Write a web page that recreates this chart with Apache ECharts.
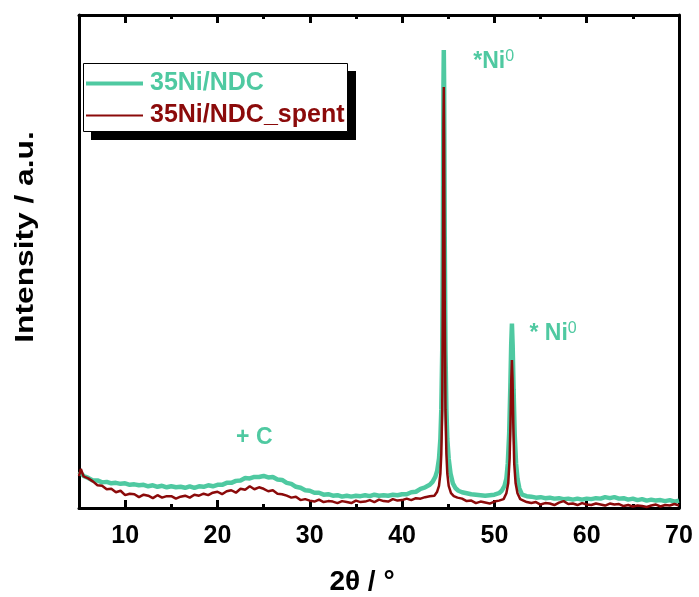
<!DOCTYPE html>
<html>
<head>
<meta charset="utf-8">
<script src="https://cdn.jsdelivr.net/npm/echarts@6/dist/echarts.min.js"></script>
<style>html,body{margin:0;padding:0;background:#fff}#c{width:699px;height:597px}</style>
</head>
<body>
<div id="c"></div>
<script>
// ---- data (2θ in degrees, intensity in arbitrary units 0-100) ----
const seriesNames = ['35Ni/NDC', '35Ni/NDC_spent'];
const xTickLabels = [10, 20, 30, 40, 50, 60, 70];
const xMinorTicks = [15, 25, 35, 45, 55, 65];

const freshX = [5.0,5.5,6.0,6.5,7.0,7.5,8.0,8.5,9.0,9.5,10,10.5,11,11.5,12,12.5,13,13.5,14,14.5,15,15.5,16,16.5,17,17.5,18,18.5,19,19.5,20,20.5,21,21.5,22,22.5,23,23.5,24,24.5,25,25.5,26,26.5,27,27.5,28,28.5,29,29.5,30,30.5,31,31.5,32,32.5,33,33.5,34,34.5,35,35.5,36,36.5,37,37.5,38,38.5,39,39.5,40,40.5,41,41.5,42,42.5,
 43.0,43.3,43.6,43.8,44.0,44.15,44.25,44.35,44.42,44.48,44.52,44.56,44.62,44.7,44.8,44.9,45.05,45.25,45.5,45.8,46.1,46.5,
 47,47.5,48,48.5,49,49.5,50,50.5,
 50.8,51.1,51.3,51.45,51.6,51.72,51.82,51.9,51.98,52.08,52.2,52.35,52.5,52.7,53.0,
 53.5,54,54.5,55,55.5,56,56.5,57,57.5,58,58.5,59,59.5,60,60.5,61,61.5,62,62.5,63,63.5,64,64.5,65,65.5,66,66.5,67,67.5,68,68.5,69,69.5,70];
const freshY = [7.4,6.5,6.1,5.6,5.6,5.2,5.3,5.0,5.1,4.9,5.0,4.7,4.8,4.6,4.7,4.4,4.6,4.3,4.5,4.2,4.4,4.2,4.3,4.1,4.4,4.1,4.4,4.3,4.6,4.4,4.7,4.7,5.1,5.1,5.5,5.6,6.1,6.0,6.3,6.3,6.5,6.2,6.3,5.8,5.7,5.1,4.9,4.3,4.1,3.6,3.5,3.1,3.1,2.7,2.8,2.5,2.6,2.3,2.5,2.3,2.5,2.4,2.6,2.4,2.7,2.5,2.6,2.5,2.7,2.6,2.8,2.8,3.2,3.3,3.9,4.2,
 4.7,5.3,6.3,7.5,10,14,20,32,55,85,92.9,85,55,32,20,14,10,7,5,4,3.5,3.2,
 3.0,2.8,2.7,2.6,2.5,2.6,2.7,3.0,
 3.5,4.5,6,9,15,24,33,37.4,33,24,15,9,6,4,2.7,
 2.4,2.3,2.1,2.2,2.0,2.1,1.9,2.0,1.8,1.9,1.7,1.9,1.7,1.9,1.8,2.0,1.9,2.2,2.0,2.2,1.9,2.0,1.7,1.9,1.6,1.8,1.5,1.7,1.5,1.6,1.4,1.6,1.3,1.5];

const spentX = [5.0,5.2,5.5,6.0,6.5,7.0,7.5,8.0,8.5,9.0,9.5,10,10.5,11,11.5,12,12.5,13,13.5,14,14.5,15,15.5,16,16.5,17,17.5,18,18.5,19,19.5,20,20.5,21,21.5,22,22.5,23,23.5,24,24.5,25,25.5,26,26.5,27,27.5,28,28.5,29,29.5,30,30.5,31,31.5,32,32.5,33,33.5,34,34.5,35,35.5,36,36.5,37,37.5,38,38.5,39,39.5,40,40.5,41,41.5,42,42.5,
 43.0,43.5,43.8,44.0,44.15,44.25,44.35,44.42,44.48,44.52,44.56,44.62,44.7,44.8,44.9,45.05,45.3,45.6,46.0,
 46.5,47,47.5,48,48.5,49,49.5,50,
 50.5,51.0,51.3,51.5,51.65,51.75,51.83,51.9,51.97,52.05,52.15,52.3,52.5,52.8,53.0,
 53.5,54,54.5,55,55.5,56,56.5,57,57.5,58,58.5,59,59.5,60,60.5,61,61.5,62,62.5,63,63.5,64,64.5,65,65.5,66,66.5,67,67.5,68,68.5,69,69.5,70];
const spentY = [6.5,7.9,6.4,6.0,5.4,4.6,4.5,3.8,3.9,3.2,3.5,2.6,2.9,2.8,2.2,2.7,2.5,2.0,2.6,2.1,2.4,2.4,1.9,2.3,2.5,2.1,2.7,2.5,2.9,2.6,3.1,3.3,2.8,3.4,3.6,3.1,3.9,3.7,4.4,3.8,4.2,3.9,3.4,3.6,2.9,2.8,2.5,2.1,2.3,1.6,1.8,1.5,1.3,1.7,1.2,1.4,1.3,1.0,1.4,1.2,1.0,1.5,1.2,1.3,1.6,1.2,1.7,1.4,1.3,1.8,1.5,1.6,1.9,1.6,2.0,1.9,2.2,
 2.4,2.5,3.3,4.5,7,11,20,45,78,85.4,75,42,20,11,7,4.5,3,2.4,2.1,
 1.9,1.4,1.5,1.0,1.3,1.1,0.9,1.3,
 1.5,1.8,3,5,10,18,26,30,26,17,9,5,3,1.8,1.6,
 1.2,1.0,1.2,0.7,1.0,0.9,0.6,1.1,1.4,0.8,0.9,0.6,1.0,0.7,0.6,0.9,0.7,0.5,0.9,0.7,0.8,0.4,0.6,0.3,0.5,0.4,0.2,0.5,0.7,0.3,0.6,0.5,0.8,0.5];

// annotation labels
const annotations = [
  {text: '{a|*Ni}{s|0}', x: 47.65, y: 90.5},
  {text: '{a|* Ni}{s|0}', x: 53.75, y: 35.4},
  {text: '{a|+ C}', x: 21.96, y: 14.3}
];

const GREEN = '#4fc9a1';
const RED = '#8b0a0a';
const FONT = '"Liberation Sans", Arial, sans-serif';

const pairs = (xs, ys) => xs.map((x, i) => [x, ys[i]]);

const chart = echarts.init(document.getElementById('c'), null, {renderer: 'canvas'});

const baseX = {
  type: 'value', min: 5, max: 70, gridIndex: 0,
  splitLine: {show: false}
};

chart.setOption({
  animation: false,
  backgroundColor: '#fff',
  grid: {left: 79, right: 20, top: 15, bottom: 89, containLabel: false},
  xAxis: [
    Object.assign({}, baseX, {
      position: 'bottom',
      axisLine: {show: true, onZero: false, lineStyle: {color: '#000', width: 3}},
      axisTick: {show: true, inside: true, length: 8, customValues: xTickLabels, lineStyle: {color: '#000', width: 3}},
      axisLabel: {show: true, customValues: xTickLabels, margin: 16, color: '#000', fontSize: 25, fontWeight: 'bold', fontFamily: FONT}
    }),
    Object.assign({}, baseX, {
      position: 'bottom',
      axisLine: {show: false, onZero: false},
      axisTick: {show: true, inside: true, length: 4, customValues: xMinorTicks, lineStyle: {color: '#000', width: 3}},
      axisLabel: {show: false}
    }),
    Object.assign({}, baseX, {
      position: 'top',
      axisLine: {show: true, onZero: false, lineStyle: {color: '#000', width: 3}},
      axisTick: {show: true, inside: true, length: 8, customValues: xTickLabels, lineStyle: {color: '#000', width: 3}},
      axisLabel: {show: false}
    }),
    Object.assign({}, baseX, {
      position: 'top',
      axisLine: {show: false, onZero: false},
      axisTick: {show: true, inside: true, length: 4, customValues: xMinorTicks, lineStyle: {color: '#000', width: 3}},
      axisLabel: {show: false}
    })
  ],
  yAxis: [
    {type: 'value', min: 0, max: 100, position: 'left',
     axisLine: {show: true, onZero: false, lineStyle: {color: '#000', width: 3}},
     axisTick: {show: false}, axisLabel: {show: false}, splitLine: {show: false}},
    {type: 'value', min: 0, max: 100, position: 'right',
     axisLine: {show: true, onZero: false, lineStyle: {color: '#000', width: 3}},
     axisTick: {show: false}, axisLabel: {show: false}, splitLine: {show: false}}
  ],
  legend: {
    orient: 'vertical', left: 83, top: 63, z: 10,
    padding: [8, 4, 4, 3],
    itemWidth: 57, itemHeight: 20, itemGap: 7,
    textStyle: {fontSize: 25, fontWeight: 'bold', fontFamily: FONT, padding: [0, 0, 0, 2]},
    data: [
      {name: seriesNames[0], icon: 'path://M0,0L0,0M0,20L0,20M0,8L57,8L57,12L0,12Z', itemStyle: {color: GREEN}, textStyle: {color: GREEN}},
      {name: seriesNames[1], icon: 'path://M0,0L0,0M0,20L0,20M0,9L57,9L57,11L0,11Z', itemStyle: {color: RED}, textStyle: {color: RED}}
    ]
  },
  graphic: [
    {type: 'rect', z: 1, shape: {x: 91, y: 71, width: 265, height: 69}, style: {fill: '#000'}},
    {type: 'rect', z: 2, shape: {x: 83.5, y: 63.5, width: 264, height: 68}, style: {fill: '#fff', stroke: '#000', lineWidth: 1}},
    {type: 'text', x: 362, y: 582, style: {text: '2θ / °', align: 'center', verticalAlign: 'middle', fill: '#000', fontSize: 28, fontWeight: 'bold', fontFamily: FONT}},
    {type: 'text', x: 26, y: 237, rotation: Math.PI / 2, scaleX: 1.22, style: {text: 'Intensity / a.u.', align: 'center', verticalAlign: 'middle', fill: '#000', fontSize: 26, fontWeight: 'bold', fontFamily: FONT}}
  ],
  series: [
    {
      name: seriesNames[0], type: 'line', xAxisIndex: 0, yAxisIndex: 0,
      data: pairs(freshX, freshY), showSymbol: false, symbol: 'none',
      lineStyle: {color: GREEN, width: 4.5}, itemStyle: {color: GREEN},
      markPoint: {
        symbol: 'circle', symbolSize: 1, itemStyle: {color: 'rgba(0,0,0,0)'},
        label: {
          show: true, position: 'right', distance: 0,
          rich: {
            a: {fontSize: 23, fontWeight: 'bold', color: GREEN, fontFamily: FONT, lineHeight: 26},
            s: {fontSize: 16, fontWeight: 'normal', color: GREEN, fontFamily: FONT, lineHeight: 16, verticalAlign: 'top'}
          },
          formatter: p => p.data.label
        },
        data: annotations.map(a => ({coord: [a.x, a.y], label: a.text}))
      }
    },
    {
      name: seriesNames[1], type: 'line', xAxisIndex: 0, yAxisIndex: 0,
      data: pairs(spentX, spentY), showSymbol: false, symbol: 'none',
      lineStyle: {color: RED, width: 2.5}, itemStyle: {color: RED}
    }
  ]
});
</script>
</body>
</html>
